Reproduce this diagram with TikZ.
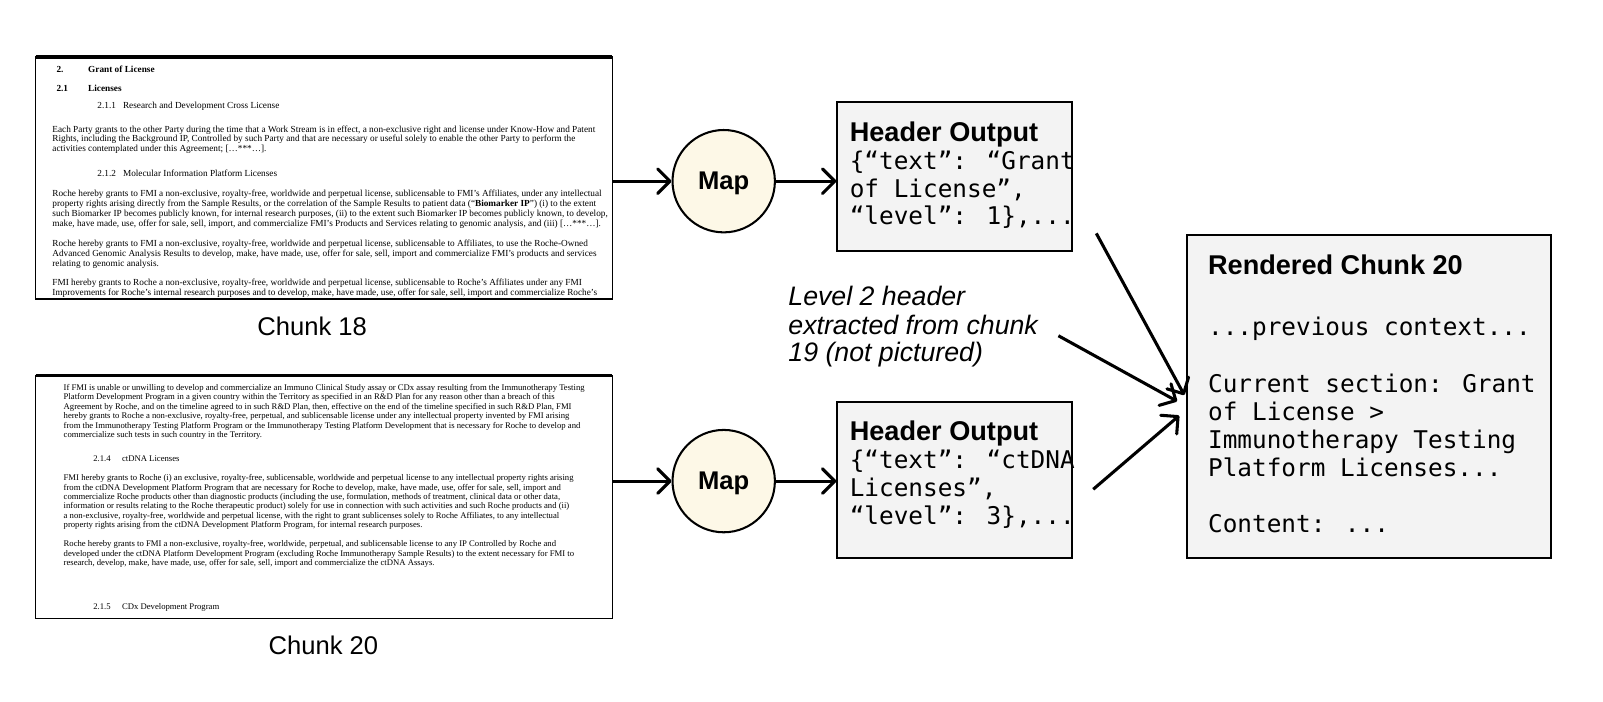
\documentclass[tikz,border=0pt]{standalone}
\usepackage{fontspec}
\usetikzlibrary{arrows.meta,calc}
\newfontfamily\docfont{Liberation Serif}
\newfontfamily\sansf{Liberation Sans}
\newfontfamily\monof{DejaVu Sans Mono}
\definecolor{mapfill}{HTML}{FDF8E7}
\definecolor{boxfill}{HTML}{F3F3F3}
\newcommand\tln[4]{\node[#1] (#2) at #3 {#4};}
\begin{document}
\begin{tikzpicture}[x=1pt,y=-1pt,
  docA/.style={font=\docfont\fontsize{9.05}{9.7}\selectfont, anchor=base west, inner sep=0pt},
  docB/.style={font=\docfont\fontsize{8.47}{9.2}\selectfont, anchor=base west, inner sep=0pt},
  docframe/.style={minimum width=563pt, inner sep=0pt},
  mapnode/.style={circle, draw, line width=2pt, fill=mapfill, minimum size=100pt, inner sep=0pt, font=\sansf\bfseries\fontsize{25}{30}\selectfont, text depth=0pt},
  hbox/.style={draw, line width=2pt, fill=boxfill, inner sep=0pt},
  htitle/.style={font=\sansf\bfseries\fontsize{26.5}{27}\selectfont, anchor=base west, inner sep=0pt},
  mono/.style={font=\monof\fontsize{23.8}{27}\selectfont, anchor=base west, inner sep=0pt},
  ital/.style={font=\sansf\itshape\fontsize{26.1}{27.5}\selectfont, anchor=base west, inner sep=0pt},
  lab/.style={font=\sansf\fontsize{25}{30}\selectfont, inner sep=0pt, text depth=0pt},
  arr/.style={line width=3pt, -{Straight Barb[length=12pt,width=24pt,round]}},
]
\fill[white] (0,0) rectangle (1566,685);
\useasboundingbox (0,0) rectangle (1566,685);

% ---------- Chunk 18 ----------
\node[docframe, minimum height=236pt] (c18) at (316.5,174) {};
\begin{scope}
\clip (c18.south west) rectangle (c18.north east);
\tln{docA}{a1n}{(55,71)}{\textbf{2.}}
\tln{docA}{a1t}{(86,71)}{\textbf{Grant of License}}
\tln{docA}{a2n}{(55,89)}{\textbf{2.1}}
\tln{docA}{a2t}{(86,89)}{\textbf{Licenses}}
\tln{docA}{a3n}{(95,106)}{2.1.1}
\tln{docA}{a3t}{(120,106)}{Research and Development Cross License}
\tln{docA}{a4}{(51,129)}{Each Party grants to the other Party during the time that a Work Stream is in effect, a non-exclusive right and license under Know-How and Patent}
\tln{docA}{a5}{(51,138.7)}{Rights, including the Background IP, Controlled by such Party and that are necessary or useful solely to enable the other Party to perform the}
\tln{docA}{a6}{(51,148.4)}{activities contemplated under this Agreement; […***…].}
\tln{docA}{a7n}{(95,172.65)}{2.1.2}
\tln{docA}{a7t}{(120,172.65)}{Molecular Information Platform Licenses}
\tln{docA}{a8}{(51,192.05)}{Roche hereby grants to FMI a non-exclusive, royalty-free, worldwide and perpetual license, sublicensable to FMI’s Affiliates, under any intellectual}
\tln{docA}{a9}{(51,201.75)}{property rights arising directly from the Sample Results, or the correlation of the Sample Results to patient data (“\textbf{Biomarker IP}”) (i) to the extent}
\tln{docA}{a10}{(51,211.45)}{such Biomarker IP becomes publicly known, for internal research purposes, (ii) to the extent such Biomarker IP becomes publicly known, to develop,}
\tln{docA}{a11}{(51,221.15)}{make, have made, use, offer for sale, sell, import, and commercialize FMI’s Products and Services relating to genomic analysis, and (iii) […***…].}
\tln{docA}{a12}{(51,240.55)}{Roche hereby grants to FMI a non-exclusive, royalty-free, worldwide and perpetual license, sublicensable to Affiliates, to use the Roche-Owned}
\tln{docA}{a13}{(51,250.25)}{Advanced Genomic Analysis Results to develop, make, have made, use, offer for sale, sell, import and commercialize FMI’s products and services}
\tln{docA}{a14}{(51,259.95)}{relating to genomic analysis.}
\tln{docA}{a15}{(51,279.35)}{FMI hereby grants to Roche a non-exclusive, royalty-free, worldwide and perpetual license, sublicensable to Roche’s Affiliates under any FMI}
\tln{docA}{a16}{(51,289.05)}{Improvements for Roche’s internal research purposes and to develop, make, have made, use, offer for sale, sell, import and commercialize Roche’s}
\end{scope}
\draw[line width=1.6pt] (c18.south west) rectangle (c18.north east);
\draw[line width=3.5pt] (c18.north west) -- (c18.north east);
\node[lab] (l18) at (305,319) {Chunk 18};

% ---------- Chunk 20 ----------
\node[docframe, minimum height=237pt] (c20) at (316.5,485.5) {};
\begin{scope}
\clip (c20.south west) rectangle (c20.north east);
\tln{docB}{b1}{(62,381.5)}{If FMI is unable or unwilling to develop and commercialize an Immuno Clinical Study assay or CDx assay resulting from the Immunotherapy Testing}
\tln{docB}{b2}{(62,390.7)}{Platform Development Program in a given country within the Territory as specified in an R\&D Plan for any reason other than a breach of this}
\tln{docB}{b3}{(62,399.9)}{Agreement by Roche, and on the timeline agreed to in such R\&D Plan, then, effective on the end of the timeline specified in such R\&D Plan, FMI}
\tln{docB}{b4}{(62,409.1)}{hereby grants to Roche a non-exclusive, royalty-free, perpetual, and sublicensable license under any intellectual property invented by FMI arising}
\tln{docB}{b5}{(62,418.3)}{from the Immunotherapy Testing Platform Program or the Immunotherapy Testing Platform Development that is necessary for Roche to develop and}
\tln{docB}{b6}{(62,427.5)}{commercialize such tests in such country in the Territory.}
\tln{docB}{b7n}{(91,450.5)}{2.1.4}
\tln{docB}{b7t}{(119,450.5)}{ctDNA Licenses}
\tln{docB}{b8}{(62,469.5)}{FMI hereby grants to Roche (i) an exclusive, royalty-free, sublicensable, worldwide and perpetual license to any intellectual property rights arising}
\tln{docB}{b9}{(62,478.7)}{from the ctDNA Development Platform Program that are necessary for Roche to develop, make, have made, use, offer for sale, sell, import and}
\tln{docB}{b10}{(62,487.9)}{commercialize Roche products other than diagnostic products (including the use, formulation, methods of treatment, clinical data or other data,}
\tln{docB}{b11}{(62,497.1)}{information or results relating to the Roche therapeutic product) solely for use in connection with such activities and such Roche products and (ii)}
\tln{docB}{b12}{(62,506.3)}{a non-exclusive, royalty-free, worldwide and perpetual license, with the right to grant sublicenses solely to Roche Affiliates, to any intellectual}
\tln{docB}{b13}{(62,515.5)}{property rights arising from the ctDNA Development Platform Program, for internal research purposes.}
\tln{docB}{b14}{(62,534)}{Roche hereby grants to FMI a non-exclusive, royalty-free, worldwide, perpetual, and sublicensable license to any IP Controlled by Roche and}
\tln{docB}{b15}{(62,543.2)}{developed under the ctDNA Platform Development Program (excluding Roche Immunotherapy Sample Results) to the extent necessary for FMI to}
\tln{docB}{b16}{(62,552.4)}{research, develop, make, have made, use, offer for sale, sell, import and commercialize the ctDNA Assays.}
\tln{docB}{b17n}{(91,595.5)}{2.1.5}
\tln{docB}{b17t}{(119,595.5)}{CDx Development Program}
\end{scope}
\draw[line width=1.6pt] (c20.south west) rectangle (c20.north east);
\draw[line width=3.5pt] (c20.north west) -- (c20.north east);
\node[lab] (l20) at (316,630) {Chunk 20};

% ---------- Map nodes ----------
\node[mapnode] (m1) at (707,177) {Map};
\node[mapnode] (m2) at (707,470) {Map};

% ---------- Header outputs ----------
\node[hbox, minimum width=229pt, minimum height=145pt] (h1) at (932.5,172.5) {};
\tln{htitle}{h1t}{(830,138.5)}{Header Output}
\tln{mono}{h1a}{(830,165.5)}{\{“text”: “Grant}
\tln{mono}{h1b}{(830,192.5)}{of License”,}
\tln{mono}{h1c}{(830,219.5)}{“level”: 1\},...}

\node[hbox, minimum width=229pt, minimum height=152pt] (h2) at (932.5,469) {};
\tln{htitle}{h2t}{(830,430.5)}{Header Output}
\tln{mono}{h2a}{(830,457.5)}{\{“text”: “ctDNA}
\tln{mono}{h2b}{(830,485)}{Licenses”,}
\tln{mono}{h2c}{(830,512.5)}{“level”: 3\},...}

% ---------- Rendered chunk ----------
\node[hbox, minimum width=355pt, minimum height=315pt] (rc) at (1337.5,387.5) {};
\tln{htitle}{rct}{(1180,268.5)}{Rendered Chunk 20}
\tln{mono}{rc1}{(1180,328)}{...previous context...}
\tln{mono}{rc2}{(1180,383)}{Current section: Grant}
\tln{mono}{rc3}{(1180,410.5)}{of License >}
\tln{mono}{rc4}{(1180,438)}{Immunotherapy Testing}
\tln{mono}{rc5}{(1180,465.5)}{Platform Licenses...}
\tln{mono}{rc6}{(1180,520.5)}{Content: ...}

% ---------- Italic note ----------
\tln{ital}{n1}{(770,298.5)}{Level 2 header}
\tln{ital}{n2}{(770,326.5)}{extracted from chunk}
\tln{ital}{n3}{(770,353.5)}{19 (not pictured)}

% ---------- Connectors ----------
\draw[arr] (c18.east |- m1.west) -- (m1.west);
\draw[arr] (m1.east) -- (m1.east -| h1.west);
\draw[arr] (c20.east |- m2.west) -- (m2.west);
\draw[arr] (m2.east) -- (m2.east -| h2.west);

\coordinate (s1) at (1071,228);
\coordinate (t1) at (1157,386);
\coordinate (s2) at (1034,328);
\coordinate (t2) at (1150,392);
\coordinate (s3) at (1068,478);
\coordinate (t3) at (1152,406);
\draw[arr] (s1) -- (t1);
\draw[arr] (s2) -- (t2);
\draw[arr] (s3) -- (t3);
\end{tikzpicture}
\end{document}
